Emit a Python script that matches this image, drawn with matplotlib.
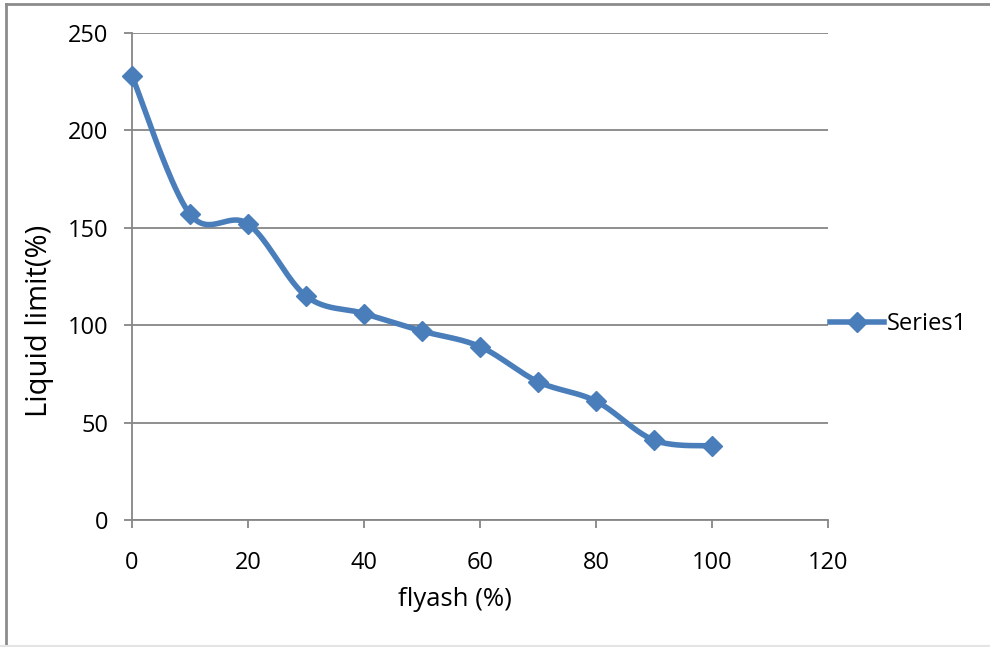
import numpy as np
import matplotlib
matplotlib.use("Agg")
import matplotlib.pyplot as plt
from matplotlib.lines import Line2D

# Liquid limit of soil versus flyash content
flyash = [0, 10, 20, 30, 40, 50, 60, 70, 80, 90, 100]
liquid_limit = [228, 157, 152, 115, 106, 97, 89, 71, 61, 41, 38]
series_name = "Series1"
x_ticks = [0, 20, 40, 60, 80, 100, 120]
y_ticks = [0, 50, 100, 150, 200, 250]

LINE_COLOR = "#4a7ebb"
GRID_COLOR = "#868686"
plt.rcParams["font.family"] = ["Open Sans", "DejaVu Sans"]

fig = plt.figure(figsize=(9.9, 6.47), dpi=100)
ax = fig.add_axes([132 / 990, 1 - 520 / 647, (828 - 132) / 990, (520 - 33) / 647])
ax.set_xlim(0, 120)
ax.set_ylim(0, 250)


def smooth_curve(xs, ys, sx, sy, n=40):
    """Cubic Bezier smoothing through the points (Catmull-Rom style), in screen-scaled space."""
    px = np.asarray(xs, float) * sx
    py = np.asarray(ys, float) * sy
    pts = np.column_stack([px, py])
    out = []
    for i in range(len(pts) - 1):
        p0 = pts[i - 1] if i > 0 else pts[i]
        p1 = pts[i]
        p2 = pts[i + 1]
        p3 = pts[i + 2] if i + 2 < len(pts) else pts[i + 1]
        c1 = p1 + (p2 - p0) / 6.0
        c2 = p2 - (p3 - p1) / 6.0
        t = np.linspace(0, 1, n)[:, None]
        seg = ((1 - t) ** 3) * p1 + 3 * ((1 - t) ** 2) * t * c1 + 3 * (1 - t) * t ** 2 * c2 + t ** 3 * p2
        out.append(seg if i == 0 else seg[1:])
    curve = np.vstack(out)
    return curve[:, 0] / sx, curve[:, 1] / sy


# scale factors: pixels per data unit
sx = (828 - 132) / 120
sy = (520 - 33) / 250
cx, cy = smooth_curve(flyash, liquid_limit, sx, sy)
ax.plot(cx, cy, color=LINE_COLOR, lw=4.0, solid_capstyle="round", zorder=3)
ax.plot(flyash, liquid_limit, linestyle="none", marker="D", ms=10.5,
        color=LINE_COLOR, mec=LINE_COLOR, zorder=4, clip_on=False)

ax.set_xticks(x_ticks)
ax.set_yticks(y_ticks)
ax.yaxis.grid(True, color=GRID_COLOR, lw=1.3)
ax.set_axisbelow(True)
for side in ("top", "right"):
    ax.spines[side].set_visible(False)
for side in ("left", "bottom"):
    ax.spines[side].set_color(GRID_COLOR)
    ax.spines[side].set_linewidth(1.3)
ax.tick_params(axis="both", direction="out", length=6, width=1.3, color=GRID_COLOR,
               labelsize=17, labelcolor="black")
ax.tick_params(axis="x", pad=16)
ax.tick_params(axis="y", pad=11)

ax.set_xlabel("flyash (%)", fontsize=18.5)
ax.xaxis.set_label_coords((455 - 132) / 696, -(600 - 520) / 487, transform=ax.transAxes)
ax.xaxis.label.set_va("center")
ax.set_ylabel("Liquid limit(%)", fontsize=21)
ax.yaxis.set_label_coords(-(132 - 40) / 696, (520 - 321) / 487, transform=ax.transAxes)
ax.yaxis.label.set_va("center")

handle = Line2D([], [], color=LINE_COLOR, lw=4.0, marker="D", ms=10.5)
fig.legend([handle], [series_name], loc="center left",
           bbox_to_anchor=(830 / 990, 1 - 324 / 647), frameon=False,
           fontsize=17, handlelength=2.3, handletextpad=0.1, borderaxespad=0,
           borderpad=0)

# outer chart frame
fig.add_artist(Line2D([6 / 990, 6 / 990], [0, 1 - 4 / 647], color="#8c8c8c", lw=2))
fig.add_artist(Line2D([6 / 990, 1], [1 - 4 / 647, 1 - 4 / 647], color="#8c8c8c", lw=2))
fig.add_artist(Line2D([0, 1], [1 / 647, 1 / 647], color="#e4e4e4", lw=1.5))

fig.savefig("out.png", dpi=100)
